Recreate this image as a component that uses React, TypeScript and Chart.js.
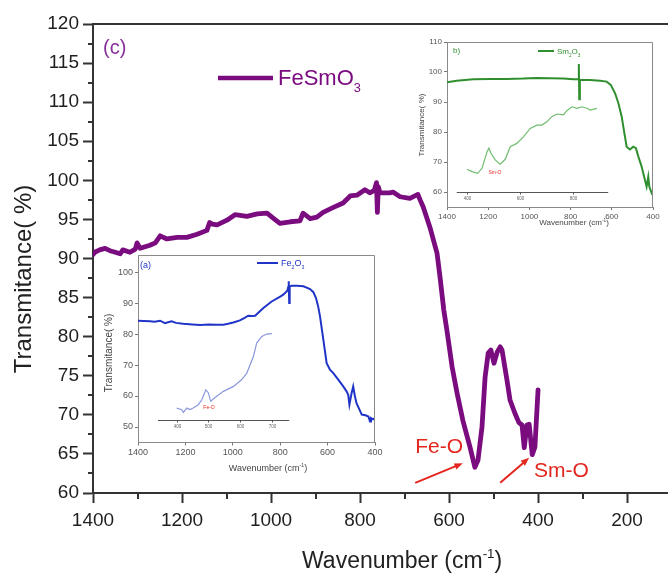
import React, { useEffect, useRef } from 'react';
import { Chart, registerables } from 'chart.js';

Chart.register(...registerables);

const FONT = '"Liberation Sans", Arial, Helvetica, sans-serif';

// ---------------- main panel (c): FeSmO3 ----------------
const mainXTickLabels = [1400, 1200, 1000, 800, 600, 400, 200];
const mainXMinorTicks = [1300, 1100, 900, 700, 500, 300];
const mainYTickLabels = [60, 65, 70, 75, 80, 85, 90, 95, 100, 105, 110, 115, 120];
const mainYMinorTicks = [62.5, 67.5, 72.5, 77.5, 82.5, 87.5, 92.5, 97.5, 102.5, 107.5, 112.5, 117.5];

const feSmO3Wavenumber = [
  1400, 1396, 1385, 1373, 1362, 1350, 1339, 1333, 1317, 1305, 1301, 1294, 1272, 1260, 1249, 1234,
  1211, 1189, 1166, 1144, 1138, 1132, 1121, 1099, 1081, 1054, 1031, 1009, 998, 980, 957, 935,
  928, 912, 897, 883, 861, 838, 822, 807, 789, 778, 768, 763, 761, 759, 755, 733, 726, 710,
  688, 670, 665, 658, 643, 627, 620, 612, 604, 593, 582, 569, 553, 542, 535, 526, 519, 512,
  506, 499, 492, 485, 481, 470, 463, 452, 443, 436, 431, 425, 420, 413, 407, 400,
];
const feSmO3Transmittance = [
  90.5, 90.8, 91.1, 91.3, 91.0, 90.8, 90.6, 91.1, 90.8, 91.2, 92.0, 91.3, 91.7, 92.0, 92.9, 92.5,
  92.7, 92.7, 93.1, 93.6, 94.6, 94.4, 94.3, 94.9, 95.6, 95.4, 95.7, 95.8, 95.3, 94.5, 94.7, 94.8,
  95.8, 95.1, 95.3, 95.9, 96.5, 97.1, 98.0, 98.1, 98.8, 98.4, 98.7, 99.7, 95.9, 99.2, 98.4, 98.4, 98.5, 97.9,
  97.7, 98.2, 97.5, 96.6, 94.0, 90.7, 87.5, 83.5, 80.5, 76.1, 72.8, 69.3, 65.9, 63.3, 64.2, 68.4, 74.8, 77.9,
  78.3, 76.6, 78.0, 78.7, 78.3, 74.5, 71.9, 70.2, 69.0, 68.7, 65.8, 68.7, 68.8, 64.9, 65.9, 73.2,
];

// ---------------- inset (a): Fe2O3 ----------------
const insetXTickLabels = [1400, 1200, 1000, 800, 600, 400];
const fe2O3YTickLabels = [50, 60, 70, 80, 90, 100];
const fe2O3Wavenumber = [
  1400, 1375, 1349, 1330, 1307, 1286, 1270, 1258, 1240, 1209, 1170, 1138, 1100, 1070, 1040, 1020,
  998, 970, 950, 935, 920, 906, 871, 836, 800, 787, 770, 766, 764, 762, 760, 751, 730, 702,
  674, 660, 649, 640, 632, 618, 604, 590, 576, 555, 534, 520, 513, 508, 500, 492, 485, 478,
  465, 456, 440, 428, 421, 417, 408, 400,
];
const fe2O3Transmittance = [
  84.3, 84.2, 84.1, 84.0, 84.3, 83.5, 83.9, 84.1, 83.6, 83.3, 83.1, 82.9, 83.1, 83.0, 83.0, 83.3,
  83.7, 84.4, 85.2, 85.9, 85.8, 85.9, 88.4, 90.5, 92.1, 92.7, 94.0, 95.2, 97.0, 90.0, 95.4, 95.6, 95.6, 95.4,
  94.5, 93.5, 91.6, 89.0, 85.7, 78.2, 70.6, 68.5, 67.4, 65.3, 63.1, 61.5, 60.4, 57.2, 60.5, 63.1, 60.0, 57.7,
  55.5, 54.0, 53.8, 53.4, 51.8, 52.9, 52.5, 52.9,
];
// small embedded detail plot of inset (a)
const fe2O3DetailTicks = [400, 500, 600, 700];
const fe2O3DetailWavenumber = [
  400, 416, 421, 432, 442, 452, 468, 479, 492, 500, 507, 526, 547, 579, 605, 621, 642, 652, 668, 684, 700,
];
const fe2O3DetailTransmittance = [
  56.1, 55.6, 54.7, 56.1, 55.6, 56.1, 57.2, 58.8, 62.0, 61.0, 58.3, 59.9, 61.5, 63.1, 65.3, 67.4, 72.8, 77.1, 79.2, 80.0, 80.1,
];

// ---------------- inset (b): Sm2O3 ----------------
const sm2O3YTickLabels = [60, 70, 80, 90, 100, 110];
const sm2O3Wavenumber = [
  1400, 1353, 1272, 1191, 1110, 1030, 965, 900, 835, 787, 763, 760, 758, 755, 746, 706, 657, 625,
  605, 584, 568, 552, 539, 528, 512, 496, 483, 471, 455, 439, 431, 423, 418, 406, 400,
];
const sm2O3Transmittance = [
  96.6, 97.1, 97.6, 97.7, 97.7, 97.8, 98.0, 97.9, 97.8, 97.6, 97.6, 102.7, 90.9, 97.4, 97.3, 97.3, 97.1, 96.8,
  95.7, 92.9, 89.6, 85.1, 79.6, 75.1, 74.2, 75.1, 74.6, 71.8, 68.4, 64.0, 61.8, 65.1, 61.8, 59.6, 60.1,
];
const sm2O3DetailTicks = [400, 600, 800];
const sm2O3DetailWavenumber = [
  399, 418, 439, 456, 475, 482, 490, 506, 525, 544, 563, 588, 613, 639, 664, 683, 702, 721, 740, 765,
  778, 797, 816, 835, 854, 867, 892,
];
const sm2O3DetailTransmittance = [
  67.6, 66.8, 66.2, 67.9, 73.4, 74.6, 72.9, 70.7, 69.3, 70.9, 75.1, 76.2, 78.4, 81.2, 82.3, 82.3, 83.4, 85.1, 86.0, 85.7,
  87.1, 88.4, 87.9, 88.4, 87.9, 87.3, 87.9,
];

const PURPLE = '#7A0C80';
const BLUE = '#2035C8';
const BLUE_LIGHT = '#8C98DC';
const GREEN = '#2F8F2F';
const GREEN_LIGHT = '#70BC70';
const RED = '#E3261E';
const AXIS = '#333333';

const pts = (xs: number[], ys: number[]) => xs.map((x, i) => ({ x, y: ys[i] }));
const tickList = (vals: number[]) => vals.map((v) => ({ value: v }));

function drawChem(ctx: CanvasRenderingContext2D, text: string, x: number, y: number, size: number, color: string) {
  ctx.fillStyle = color;
  ctx.textAlign = 'left';
  ctx.textBaseline = 'alphabetic';
  let cx = x;
  for (const ch of text) {
    const sub = /[0-9]/.test(ch);
    const s = sub ? size * 0.58 : size;
    ctx.font = `${s}px ${FONT}`;
    ctx.fillText(ch, cx, sub ? y + size * 0.32 : y);
    cx += ctx.measureText(ch).width;
  }
}

function drawWavenumberTitle(ctx: CanvasRenderingContext2D, x: number, y: number, size: number, color: string, align: 'left' | 'center') {
  ctx.fillStyle = color;
  ctx.textBaseline = 'alphabetic';
  ctx.textAlign = 'left';
  const a = 'Wavenumber (cm';
  const sup = '-1';
  const b = ')';
  ctx.font = `${size}px ${FONT}`;
  const wa = ctx.measureText(a).width;
  const wb = ctx.measureText(b).width;
  ctx.font = `${size * 0.58}px ${FONT}`;
  const ws = ctx.measureText(sup).width;
  const sx = align === 'center' ? x - (wa + ws + wb) / 2 : x;
  ctx.font = `${size}px ${FONT}`;
  ctx.fillText(a, sx, y);
  ctx.font = `${size * 0.58}px ${FONT}`;
  ctx.fillText(sup, sx + wa, y - size * 0.42);
  ctx.font = `${size}px ${FONT}`;
  ctx.fillText(b, sx + wa + ws, y);
}

function drawRotated(ctx: CanvasRenderingContext2D, text: string, x: number, y: number, size: number, color: string) {
  ctx.save();
  ctx.translate(x, y);
  ctx.rotate(-Math.PI / 2);
  ctx.font = `${size}px ${FONT}`;
  ctx.fillStyle = color;
  ctx.textAlign = 'center';
  ctx.textBaseline = 'middle';
  ctx.fillText(text, 0, 0);
  ctx.restore();
}

function drawArrow(ctx: CanvasRenderingContext2D, x1: number, y1: number, x2: number, y2: number, color: string) {
  const ang = Math.atan2(y2 - y1, x2 - x1);
  const head = 9;
  ctx.strokeStyle = color;
  ctx.fillStyle = color;
  ctx.lineWidth = 2;
  ctx.beginPath();
  ctx.moveTo(x1, y1);
  ctx.lineTo(x2 - head * 0.7 * Math.cos(ang), y2 - head * 0.7 * Math.sin(ang));
  ctx.stroke();
  ctx.beginPath();
  ctx.moveTo(x2, y2);
  ctx.lineTo(x2 - head * Math.cos(ang - 0.38), y2 - head * Math.sin(ang - 0.38));
  ctx.lineTo(x2 - head * Math.cos(ang + 0.38), y2 - head * Math.sin(ang + 0.38));
  ctx.closePath();
  ctx.fill();
}

// annotation anchors in data units (wavenumber, transmittance)
const feOArrow = [676, 61.3, 569, 63.8];
const smOArrow = [485, 61.3, 420, 64.5];
const feOLabel = [676, 65.1];
const smOLabel = [409, 62.0];

const mainDecor = {
  id: 'mainDecor',
  afterDraw(chart: any) {
    const { ctx, chartArea: a } = chart;
    const x = chart.scales.x;
    const y = chart.scales.y;
    ctx.save();
    ctx.strokeStyle = AXIS;
    ctx.lineWidth = 2;
    ctx.beginPath();
    ctx.moveTo(a.left - 1, a.top);
    ctx.lineTo(a.right, a.top);
    ctx.stroke();
    for (const v of mainXMinorTicks) {
      const px = Math.round(x.getPixelForValue(v));
      ctx.beginPath();
      ctx.moveTo(px, a.bottom);
      ctx.lineTo(px, a.bottom + 6);
      ctx.stroke();
    }
    for (const v of mainYMinorTicks) {
      const py = Math.round(y.getPixelForValue(v));
      ctx.beginPath();
      ctx.moveTo(a.left, py);
      ctx.lineTo(a.left - 5, py);
      ctx.stroke();
    }
    // axis titles
    drawRotated(ctx, 'Transmitance( %)', 24, 279, 24, '#222');
    drawWavenumberTitle(ctx, 302, 568, 23, '#222', 'left');
    // panel label and legend
    ctx.font = `20px ${FONT}`;
    ctx.fillStyle = '#86309A';
    ctx.textAlign = 'left';
    ctx.textBaseline = 'alphabetic';
    ctx.fillText('(c)', 103, 54);
    ctx.strokeStyle = PURPLE;
    ctx.lineWidth = 4.5;
    ctx.beginPath();
    ctx.moveTo(218, 78);
    ctx.lineTo(273, 78);
    ctx.stroke();
    drawChem(ctx, 'FeSmO3', 278, 85, 22, PURPLE);
    // annotations
    const px = (v: number) => x.getPixelForValue(v);
    const py = (v: number) => y.getPixelForValue(v);
    drawArrow(ctx, px(feOArrow[0]), py(feOArrow[1]), px(feOArrow[2]), py(feOArrow[3]), RED);
    drawArrow(ctx, px(smOArrow[0]), py(smOArrow[1]), px(smOArrow[2]), py(smOArrow[3]), RED);
    ctx.font = `21px ${FONT}`;
    ctx.fillStyle = RED;
    ctx.textAlign = 'left';
    ctx.fillText('Fe-O', px(feOLabel[0]), py(feOLabel[1]));
    ctx.fillText('Sm-O', px(smOLabel[0]), py(smOLabel[1]));
    ctx.restore();
  },
};

type InsetCfg = {
  panelLabel: string; panelPos: number[]; color: string; lineColor: string;
  legendLine: number[]; legendText: string; legendPos: number[];
  yTitlePos: number[]; yTitleSize: number; xTitlePos: number[]; xTitleSize: number; fontSize: number;
  subY: number; subFrom: number; subTo: number; subTicks: number[]; note: string; notePos: number[];
};

function makeInsetDecor(c: InsetCfg) {
  return {
    id: 'insetDecor',
    afterDraw(chart: any) {
      const { ctx, chartArea: a } = chart;
      const y = chart.scales.y;
      const x2 = chart.scales.x2;
      ctx.save();
      ctx.strokeStyle = '#8a8a8a';
      ctx.lineWidth = 1;
      ctx.beginPath();
      ctx.moveTo(a.left, a.top + 0.5);
      ctx.lineTo(a.right - 0.5, a.top + 0.5);
      ctx.lineTo(a.right - 0.5, a.bottom);
      ctx.stroke();
      drawRotated(ctx, 'Transmitance( %)', c.yTitlePos[0], c.yTitlePos[1], c.yTitleSize, '#444');
      drawWavenumberTitle(ctx, c.xTitlePos[0], c.xTitlePos[1], c.xTitleSize, '#444', 'center');
      ctx.font = `${c.fontSize}px ${FONT}`;
      ctx.fillStyle = c.color;
      ctx.textAlign = 'left';
      ctx.textBaseline = 'alphabetic';
      ctx.fillText(c.panelLabel, c.panelPos[0], c.panelPos[1]);
      ctx.strokeStyle = c.lineColor;
      ctx.lineWidth = 2;
      ctx.beginPath();
      ctx.moveTo(c.legendLine[0], c.legendLine[2]);
      ctx.lineTo(c.legendLine[1], c.legendLine[2]);
      ctx.stroke();
      drawChem(ctx, c.legendText, c.legendPos[0], c.legendPos[1], c.fontSize, c.color);
      // embedded detail axis
      const ay = Math.round(y.getPixelForValue(c.subY)) + 0.5;
      ctx.strokeStyle = '#555';
      ctx.lineWidth = 1;
      ctx.beginPath();
      ctx.moveTo(x2.getPixelForValue(c.subFrom), ay);
      ctx.lineTo(x2.getPixelForValue(c.subTo), ay);
      ctx.stroke();
      ctx.font = `4.5px ${FONT}`;
      ctx.fillStyle = '#666';
      ctx.textAlign = 'center';
      ctx.textBaseline = 'top';
      for (const t of c.subTicks) {
        const tx = Math.round(x2.getPixelForValue(t)) + 0.5;
        ctx.beginPath();
        ctx.moveTo(tx, ay);
        ctx.lineTo(tx, ay + 2);
        ctx.stroke();
        ctx.fillText(String(t), tx, ay + 4);
      }
      ctx.font = `5px ${FONT}`;
      ctx.fillStyle = RED;
      ctx.textAlign = 'center';
      ctx.textBaseline = 'middle';
      ctx.fillText(c.note, x2.getPixelForValue(c.notePos[0]), y.getPixelForValue(c.notePos[1]));
      ctx.restore();
    },
  };
}

function insetScales(yMin: number, yMax: number, yTicks: number[], x2Min: number, x2Max: number, yWidth: number, xHeight: number, fontSize: number) {
  const tickFont = { family: FONT, size: fontSize };
  return {
    x: {
      type: 'linear', reverse: true, min: 400, max: 1400,
      afterFit: (s: any) => { s.height = xHeight; },
      afterBuildTicks: (s: any) => { s.ticks = tickList(insetXTickLabels); },
      grid: { display: true, drawOnChartArea: false, tickLength: 3, tickColor: '#777', tickWidth: 1 },
      border: { display: true, color: '#8a8a8a', width: 1 },
      ticks: { font: tickFont, color: '#555', padding: 2, maxRotation: 0, autoSkip: false, callback: (v: any) => String(v) },
    },
    x2: { type: 'linear', display: false, min: x2Min, max: x2Max },
    y: {
      type: 'linear', min: yMin, max: yMax,
      afterFit: (s: any) => { s.width = yWidth; },
      afterBuildTicks: (s: any) => { s.ticks = tickList(yTicks); },
      grid: { display: true, drawOnChartArea: false, tickLength: 3, tickColor: '#777', tickWidth: 1 },
      border: { display: true, color: '#8a8a8a', width: 1 },
      ticks: { font: tickFont, color: '#555', padding: 2, callback: (v: any) => String(v) },
    },
  };
}

function mainConfig(): any {
  return {
    type: 'line',
    data: {
      datasets: [{
        label: 'FeSmO3',
        data: pts(feSmO3Wavenumber, feSmO3Transmittance),
        borderColor: PURPLE, borderWidth: 4.8, pointRadius: 0, tension: 0,
        borderJoinStyle: 'round', borderCapStyle: 'round', fill: false,
      }],
    },
    options: {
      responsive: false, animation: false, events: [],
      layout: { padding: { left: 0, top: 24, right: 0, bottom: 41 } },
      plugins: { legend: { display: false }, tooltip: { enabled: false } },
      scales: {
        x: {
          type: 'linear', reverse: true, min: 108, max: 1400,
          afterFit: (s: any) => { s.height = 40; },
          afterBuildTicks: (s: any) => { s.ticks = tickList(mainXTickLabels); },
          grid: { display: true, drawOnChartArea: false, tickLength: 10, tickWidth: 2, tickColor: AXIS },
          border: { display: true, color: AXIS, width: 2 },
          ticks: { font: { family: FONT, size: 19 }, color: '#1e1e1e', padding: 6, maxRotation: 0, autoSkip: false, callback: (v: any) => String(v) },
        },
        y: {
          type: 'linear', min: 60, max: 120,
          afterFit: (s: any) => { s.width = 93; },
          afterBuildTicks: (s: any) => { s.ticks = tickList(mainYTickLabels); },
          grid: { display: true, drawOnChartArea: false, tickLength: 10, tickWidth: 2, tickColor: AXIS },
          border: { display: true, color: AXIS, width: 2 },
          ticks: { font: { family: FONT, size: 19 }, color: '#1e1e1e', padding: 4, callback: (v: any) => String(v) },
        },
      },
    },
    plugins: [mainDecor],
  };
}

function insetAConfig(): any {
  return {
    type: 'line',
    data: {
      datasets: [
        { label: 'Fe2O3', data: pts(fe2O3Wavenumber, fe2O3Transmittance), borderColor: BLUE, borderWidth: 2, pointRadius: 0, tension: 0, fill: false },
        { label: 'Fe2O3 detail', xAxisID: 'x2', data: pts(fe2O3DetailWavenumber, fe2O3DetailTransmittance), borderColor: BLUE_LIGHT, borderWidth: 1.2, pointRadius: 0, tension: 0, fill: false },
      ],
    },
    options: {
      responsive: false, animation: false, events: [],
      layout: { padding: { left: 0, top: 10, right: 15, bottom: 0 } },
      plugins: { legend: { display: false }, tooltip: { enabled: false } },
      scales: insetScales(45, 105.5, fe2O3YTickLabels, 278, 1025, 38, 42.5, 9),
    },
    plugins: [makeInsetDecor({
      panelLabel: '(a)', panelPos: [40, 23], color: BLUE, lineColor: BLUE,
      legendLine: [157, 178, 18], legendText: 'Fe2O3', legendPos: [181, 21],
      yTitlePos: [9, 108], yTitleSize: 10, xTitlePos: [168, 226], xTitleSize: 9, fontSize: 9,
      subY: 52.4, subFrom: 341, subTo: 755, subTicks: fe2O3DetailTicks, note: 'Fe-O', notePos: [502, 56.2],
    })],
  };
}

function insetBConfig(): any {
  return {
    type: 'line',
    data: {
      datasets: [
        { label: 'Sm2O3', data: pts(sm2O3Wavenumber, sm2O3Transmittance), borderColor: GREEN, borderWidth: 2, pointRadius: 0, tension: 0, fill: false },
        { label: 'Sm2O3 detail', xAxisID: 'x2', data: pts(sm2O3DetailWavenumber, sm2O3DetailTransmittance), borderColor: GREEN_LIGHT, borderWidth: 1.2, pointRadius: 0, tension: 0, fill: false },
      ],
    },
    options: {
      responsive: false, animation: false, events: [],
      layout: { padding: { left: 0, top: 12, right: 12, bottom: 0 } },
      plugins: { legend: { display: false }, tooltip: { enabled: false } },
      scales: insetScales(55, 110, sm2O3YTickLabels, 323, 1105, 37, 23, 8),
    },
    plugins: [makeInsetDecor({
      panelLabel: 'b)', panelPos: [43, 23], color: GREEN, lineColor: GREEN,
      legendLine: [128, 144, 21], legendText: 'Sm2O3', legendPos: [147, 24],
      yTitlePos: [12, 95], yTitleSize: 8, xTitlePos: [164, 195], xTitleSize: 8, fontSize: 8,
      subY: 60.1, subFrom: 360, subTo: 935, subTicks: sm2O3DetailTicks, note: 'Sm-O', notePos: [505, 66.4],
    })],
  };
}

function ChartCanvas({ make, left, top, width, height }: { make: () => any; left: number; top: number; width: number; height: number }) {
  const ref = useRef<HTMLCanvasElement>(null);
  useEffect(() => {
    const chart = new Chart(ref.current as HTMLCanvasElement, make());
    return () => chart.destroy();
  }, []);
  return (
    <canvas
      ref={ref}
      width={width}
      height={height}
      style={{ position: 'absolute', left, top, width, height, display: 'block' }}
    />
  );
}

export default function App() {
  return (
    <div style={{ position: 'fixed', left: 0, top: 0, width: 668, height: 574, background: '#ffffff', overflow: 'hidden' }}>
      <ChartCanvas make={mainConfig} left={0} top={0} width={668} height={574} />
      <ChartCanvas make={insetAConfig} left={100} top={245} width={290} height={240} />
      <ChartCanvas make={insetBConfig} left={410} top={30} width={255} height={200} />
    </div>
  );
}
